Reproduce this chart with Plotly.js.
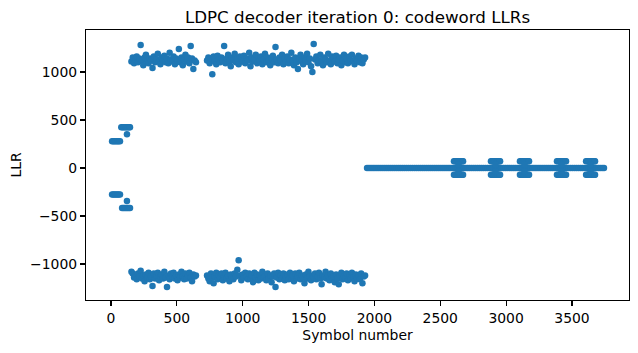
<!DOCTYPE html>
<html><head><meta charset="utf-8">
<script src="https://cdn.plot.ly/plotly-3.0.1.min.js"></script>
<style>html,body{margin:0;padding:0;background:#fff}</style>
</head><body><div id="chart" style="width:638px;height:353px"></div>
<script>
// ---- preamble symbols (constant LLR clusters) ----
const preA_x = [8, 18, 28, 38, 48, 58, 68];
const preA_pos = 278, preA_neg = -275;
const preB_posX = [78, 88, 98, 108, 118, 128, 138, 144];
const preB_negX = [84, 94, 104, 114, 124, 134, 144];
const preB_pos = 425, preB_neg = -418;
const preC_x = [121];
const preC_pos = 352, preC_neg = -345;

// ---- payload bands (one value per 10 symbols) ----
const bandStep = 10;
const upperLeftStart = 155;
const upperLeft = [1110,1150,1090,1130,1160,1100,1140,1280,1120,1070,
  1150,1180,1110,1090,1140,1120,1040,1160,1100,1130,
  1190,1110,1080,1150,1120,1170,1100,1140,1090,1200,
  1130,1110,1160,1080,1140,1120,1240,1100,1150,1070,
  1130,1180,1110,1150,1090,1270,1140,1030,1120,1100];
const upperRightStart = 729;
const upperRight = [1120,1150,1090,1140,975,1160,1110,1080,1170,1130,
  1100,1150,1120,1270,1090,1140,1180,1110,1060,1150,
  1120,1190,1100,1140,1080,1160,1130,1110,1170,1090,
  1140,1120,1200,1060,1150,1110,1130,1180,1090,1140,
  1120,1160,1080,1130,1190,1100,1150,1120,1070,1140,
  1170,1100,1260,1130,1090,1150,1120,1180,1080,1140,
  1110,1160,1090,1130,1200,1120,1070,1150,1100,1030,
  1140,1180,1110,1080,1150,1120,1190,1100,1140,1060,
  1000,1290,1130,1160,1090,1120,1180,1110,1070,1150,
  1130,1100,1190,1120,1080,1160,1140,1110,1170,1090,
  1130,1150,1070,1120,1180,1100,1140,1090,1160,1120,
  1180,1110,1080,1140,1120,1170,1100,1150,1090,1130,
  1150];
const lowerLeftStart = 155;
const lowerLeft = [-1080,-1100,-1140,-1120,-1160,-1100,-1130,-1070,-1150,-1120,
  -1180,-1110,-1140,-1090,-1160,-1130,-1230,-1100,-1150,-1120,
  -1090,-1170,-1130,-1110,-1150,-1080,-1140,-1240,-1120,-1160,
  -1100,-1130,-1090,-1150,-1120,-1170,-1110,-1140,-1080,-1130,
  -1160,-1100,-1150,-1120,-1090,-1140,-1180,-1110,-1130,-1120];
const lowerRightStart = 729;
const lowerRight = [-1120,-1150,-1180,-1100,-1140,-1200,-1130,-1090,-1160,-1120,
  -1140,-1100,-1170,-1130,-1090,-1150,-1120,-1180,-1110,-1140,
  -1160,-1100,-1130,-1060,-960,-1120,-1170,-1110,-1140,-1090,
  -1130,-1160,-1100,-1150,-1120,-1190,-1090,-1140,-1110,-1170,
  -1120,-1150,-1080,-1140,-1130,-1170,-1100,-1150,-1120,-1190,
  -1130,-1100,-1240,-1140,-1090,-1160,-1120,-1150,-1100,-1170,
  -1130,-1110,-1160,-1090,-1140,-1120,-1180,-1100,-1150,-1130,
  -1090,-1160,-1120,-1140,-1200,-1110,-1150,-1080,-1130,-1170,
  -1120,-1140,-1100,-1160,-1130,-1090,-1150,-1210,-1120,-1140,
  -1080,-1150,-1120,-1170,-1100,-1140,-1130,-1190,-1110,-1150,
  -1210,-1120,-1090,-1160,-1130,-1140,-1100,-1170,-1120,-1150,
  -1090,-1140,-1180,-1110,-1150,-1120,-1160,-1100,-1200,-1130,
  -1120];

// ---- punctured / filler region ----
const zeroStart = 1944, zeroEnd = 3743, zeroStep = 15;
const bumpStart = [2604, 2885, 3105, 3386, 3607];
const bumpEnd   = [2673, 2954, 3174, 3455, 3675];
const bumpLevel = 70, neckLevel = 36;

const X = [], Y = [];
function add(x, y) { X.push(x); Y.push(y); }
preA_x.forEach(x => { add(x, preA_pos); add(x, preA_neg); });
preB_posX.forEach(x => add(x, preB_pos));
preB_negX.forEach(x => add(x, preB_neg));
preC_x.forEach(x => { add(x, preC_pos); add(x, preC_neg); });
function addBand(start, vals) { vals.forEach((v, i) => add(start + i * bandStep, v)); }
addBand(upperLeftStart, upperLeft);
addBand(upperRightStart, upperRight);
addBand(lowerLeftStart, lowerLeft);
addBand(lowerRightStart, lowerRight);
for (let s = zeroStart; s <= zeroEnd; s += zeroStep) add(s, 0);
add(zeroEnd, 0);
bumpStart.forEach((b, k) => {
  for (let s = b; s <= bumpEnd[k]; s += 8) { add(s, bumpLevel); add(s, -bumpLevel); }
  add(bumpEnd[k], bumpLevel); add(bumpEnd[k], -bumpLevel);
  const c = (b + bumpEnd[k]) / 2;
  add(c, neckLevel); add(c, -neckLevel);
});

const font = {family: 'DejaVu Sans, sans-serif', size: 13.9, color: '#000'};
const data = [{
  type: 'scatter', mode: 'markers', x: X, y: Y,
  marker: {color: '#1f77b4', size: 6.5, line: {width: 0}},
  hoverinfo: 'x+y'
}];
const axisCommon = {
  showgrid: false, zeroline: false, showline: true, mirror: true,
  linecolor: '#000', linewidth: 1.1, ticks: 'outside', ticklen: 5,
  tickwidth: 1.1, tickcolor: '#000', tickfont: font
};
const layout = {
  width: 638, height: 353,
  margin: {l: 86, r: 9, t: 30, b: 53},
  paper_bgcolor: '#fff', plot_bgcolor: '#fff',
  font: font, showlegend: false,
  title: {text: 'LDPC decoder iteration 0: codeword LLRs',
    font: {family: 'DejaVu Sans, sans-serif', size: 16.7, color: '#000'},
    x: 0.5, xref: 'paper', y: 1 - 17 / 353, yref: 'container', yanchor: 'middle'},
  xaxis: Object.assign({}, axisCommon, {
    range: [-190, 3933], tickmode: 'array',
    tickvals: [0, 500, 1000, 1500, 2000, 2500, 3000, 3500],
    title: {text: 'Symbol number', font: font, standoff: 5}
  }),
  yaxis: Object.assign({}, axisCommon, {
    range: [-1375, 1437], tickmode: 'array',
    tickvals: [-1000, -500, 0, 500, 1000],
    ticktext: ['\u22121000', '\u2212500', '0', '500', '1000'],
    title: {text: 'LLR', font: font, standoff: 5}
  })
};
Plotly.newPlot('chart', data, layout, {staticPlot: true, displayModeBar: false});
</script></body></html>
